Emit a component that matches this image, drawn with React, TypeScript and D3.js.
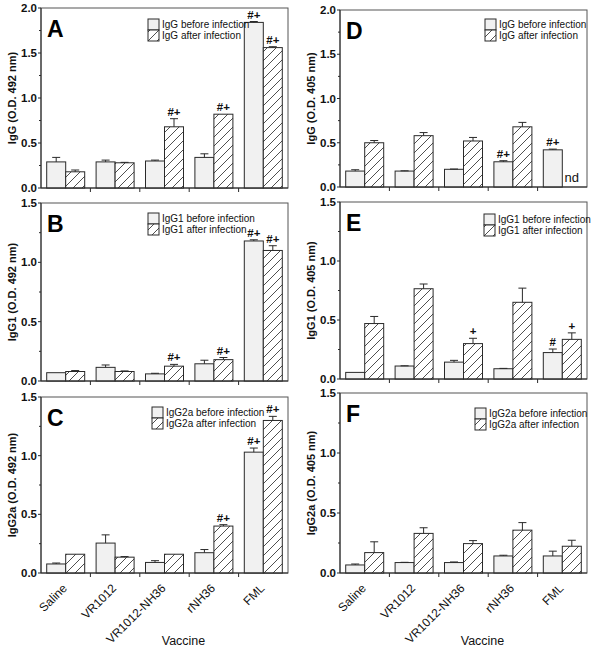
import React from "react";
import * as d3 from "d3";

const categories = ["Saline", "VR1012", "VR1012-NH36", "rNH36", "FML"];

// Panel A: IgG (O.D. 492 nm)
const aBefore = [0.29, 0.29, 0.3, 0.34, 1.84];
const aBeforeErr = [0.05, 0.02, 0.01, 0.04, 0.01];
const aAfter = [0.18, 0.28, 0.68, 0.82, 1.56];
const aAfterErr = [0.02, 0.005, 0.09, 0.0, 0.01];
const aBeforeMarks = ["", "", "", "", "#+"];
const aAfterMarks = ["", "", "#+", "#+", "#+"];

// Panel B: IgG1 (O.D. 492 nm)
const bBefore = [0.07, 0.115, 0.06, 0.145, 1.18];
const bBeforeErr = [0.0, 0.02, 0.005, 0.03, 0.01];
const bAfter = [0.08, 0.08, 0.125, 0.18, 1.1];
const bAfterErr = [0.008, 0.005, 0.015, 0.018, 0.04];
const bBeforeMarks = ["", "", "", "", "#+"];
const bAfterMarks = ["", "", "#+", "#+", "#+"];

// Panel C: IgG2a (O.D. 492 nm)
const cBefore = [0.077, 0.255, 0.09, 0.173, 1.03];
const cBeforeErr = [0.008, 0.07, 0.015, 0.027, 0.035];
const cAfter = [0.16, 0.135, 0.16, 0.4, 1.3];
const cAfterErr = [0.0, 0.005, 0.0, 0.012, 0.035];
const cBeforeMarks = ["", "", "", "", "#+"];
const cAfterMarks = ["", "", "", "#+", "#+"];

// Panel D: IgG (O.D. 405 nm)
const dBefore = [0.18, 0.18, 0.2, 0.285, 0.42];
const dBeforeErr = [0.015, 0.003, 0.003, 0.012, 0.008];
const dAfter: (number | null)[] = [0.5, 0.58, 0.52, 0.68, null];
const dAfterErr = [0.025, 0.035, 0.04, 0.05, 0];
const dBeforeMarks = ["", "", "", "#+", "#+"];
const dAfterMarks = ["", "", "", "", ""];

// Panel E: IgG1 (O.D. 405 nm)
const eBefore = [0.056, 0.11, 0.143, 0.087, 0.224];
const eBeforeErr = [0.0, 0.002, 0.015, 0.003, 0.03];
const eAfter = [0.47, 0.765, 0.3, 0.65, 0.336];
const eAfterErr = [0.06, 0.04, 0.045, 0.12, 0.055];
const eBeforeMarks = ["", "", "", "", "#"];
const eAfterMarks = ["", "", "+", "", "+"];

// Panel F: IgG2a (O.D. 405 nm)
const fBefore = [0.067, 0.087, 0.087, 0.142, 0.142];
const fBeforeErr = [0.008, 0.002, 0.005, 0.006, 0.04];
const fAfter = [0.17, 0.33, 0.245, 0.357, 0.223];
const fAfterErr = [0.09, 0.047, 0.025, 0.063, 0.05];
const fBeforeMarks = ["", "", "", "", ""];
const fAfterMarks = ["", "", "", "", ""];

const yTicks2 = [0, 0.5, 1.0, 1.5, 2.0];
const yTicks15 = [0, 0.5, 1.0, 1.5];

type Panel = {
  letter: string;
  title: string;
  iso: string;
  before: number[];
  beforeErr: number[];
  after: (number | null)[];
  afterErr: number[];
  beforeMarks: string[];
  afterMarks: string[];
  max: number;
  ticks: number[];
  x0: number;
  x1: number;
  y0: number;
  y1: number;
  legX: number;
  legY: number;
  showX: boolean;
};

const FONT = "'Liberation Sans', Arial, Helvetica, sans-serif";

const panels: Panel[] = [
  { letter: "A", title: "IgG (O.D.  492 nm)", iso: "IgG", before: aBefore, beforeErr: aBeforeErr, after: aAfter, afterErr: aAfterErr, beforeMarks: aBeforeMarks, afterMarks: aAfterMarks, max: 2, ticks: yTicks2, x0: 41, x1: 288, y0: 188, y1: 8, legX: 148, legY: 19, showX: false },
  { letter: "B", title: "IgG1 (O.D. 492 nm)", iso: "IgG1", before: bBefore, beforeErr: bBeforeErr, after: bAfter, afterErr: bAfterErr, beforeMarks: bBeforeMarks, afterMarks: bAfterMarks, max: 1.5, ticks: yTicks15, x0: 41, x1: 288, y0: 381, y1: 203, legX: 148, legY: 213, showX: false },
  { letter: "C", title: "IgG2a (O.D. 492 nm)", iso: "IgG2a", before: cBefore, beforeErr: cBeforeErr, after: cAfter, afterErr: cAfterErr, beforeMarks: cBeforeMarks, afterMarks: cAfterMarks, max: 1.5, ticks: yTicks15, x0: 41, x1: 288, y0: 573, y1: 397, legX: 152, legY: 407, showX: true },
  { letter: "D", title: "IgG (O.D.  405 nm)", iso: "IgG", before: dBefore, beforeErr: dBeforeErr, after: dAfter, afterErr: dAfterErr, beforeMarks: dBeforeMarks, afterMarks: dAfterMarks, max: 2, ticks: yTicks2, x0: 340, x1: 587, y0: 187, y1: 10, legX: 485, legY: 19, showX: false },
  { letter: "E", title: "IgG1 (O.D. 405 nm)", iso: "IgG1", before: eBefore, beforeErr: eBeforeErr, after: eAfter, afterErr: eAfterErr, beforeMarks: eBeforeMarks, afterMarks: eAfterMarks, max: 1.5, ticks: yTicks15, x0: 340, x1: 587, y0: 379, y1: 202, legX: 484, legY: 214, showX: false },
  { letter: "F", title: "IgG2a (O.D. 405 nm)", iso: "IgG2a", before: fBefore, beforeErr: fBeforeErr, after: fAfter, afterErr: fAfterErr, beforeMarks: fBeforeMarks, afterMarks: fAfterMarks, max: 1.5, ticks: yTicks15, x0: 340, x1: 587, y0: 573, y1: 393, legX: 475, legY: 408, showX: true },
];

const BAR_W = 19;
const STROKE = "#2a2a2a";
const FRAME = "#555";
const BEFORE_FILL = "#f1f1f1";

function PanelView({ p }: { p: Panel }) {
  const x = d3.scaleBand<string>().domain(categories).range([p.x0, p.x1]).padding(0);
  const y = d3.scaleLinear().domain([0, p.max]).range([p.y0, p.y1]);
  const bw = x.bandwidth();
  const minor = d3.range(0, p.max + 0.001, 0.25).filter((v) => Math.abs(v * 2 - Math.round(v * 2)) > 0.01);

  const bar = (cx: number, v: number | null, e: number, mark: string, hatched: boolean, key: string) => {
    if (v === null) return null;
    const top = y(v);
    const et = y(v + e);
    return (
      <g key={key}>
        <rect x={cx} y={top} width={BAR_W} height={p.y0 - top} fill={hatched ? "url(#hatch)" : BEFORE_FILL} stroke={STROKE} strokeWidth={1} />
        {e > 0 && (
          <g stroke={STROKE} strokeWidth={1}>
            <line x1={cx + BAR_W / 2} x2={cx + BAR_W / 2} y1={top} y2={et} />
            <line x1={cx + BAR_W / 2 - 4} x2={cx + BAR_W / 2 + 4} y1={et} y2={et} />
          </g>
        )}
        {mark && (
          <text x={cx + BAR_W / 2} y={et - 3} textAnchor="middle" fontSize={11.5} fontWeight="bold" fontFamily={FONT} fill="#111">
            {mark}
          </text>
        )}
      </g>
    );
  };

  return (
    <g>
      <rect x={p.x0} y={p.y1} width={p.x1 - p.x0} height={p.y0 - p.y1} fill="none" stroke={FRAME} strokeWidth={1} />
      {p.ticks.map((t) => (
        <g key={"t" + t}>
          <line x1={p.x0 - 3} x2={p.x0} y1={y(t)} y2={y(t)} stroke={STROKE} />
          <text x={p.x0 - 4} y={y(t) + 4} textAnchor="end" fontSize={11.5} fontWeight="bold" fontFamily={FONT} fill="#111">
            {t.toFixed(1)}
          </text>
        </g>
      ))}
      {minor.map((t) => (
        <line key={"m" + t} x1={p.x0 - 2} x2={p.x0} y1={y(t)} y2={y(t)} stroke={STROKE} />
      ))}
      {categories.slice(1).map((c) => (
        <line key={"xt" + c} x1={x(c)!} x2={x(c)!} y1={p.y0} y2={p.y0 + 4} stroke={STROKE} />
      ))}
      {categories.map((c, i) => {
        const center = x(c)! + bw / 2;
        return (
          <g key={c}>
            {bar(center - BAR_W, p.before[i], p.beforeErr[i], p.beforeMarks[i], false, "b" + i)}
            {bar(center, p.after[i], p.afterErr[i], p.afterMarks[i], true, "a" + i)}
            {p.after[i] === null && (
              <text x={center + BAR_W / 2} y={p.y0 - 5} textAnchor="middle" fontSize={13} fontFamily={FONT} fill="#111">
                nd
              </text>
            )}
          </g>
        );
      })}
      <line x1={p.x0} x2={p.x1} y1={p.y0} y2={p.y0} stroke={STROKE} strokeWidth={1.2} />
      <line x1={p.x0} x2={p.x0} y1={p.y0} y2={p.y1} stroke={STROKE} strokeWidth={1} />
      <text x={p.x0 + 6} y={p.y1 + 29} fontSize={23} fontWeight="bold" fontFamily={FONT} fill="#000">
        {p.letter}
      </text>
      <g fontFamily={FONT} fontSize={10} fill="#111">
        <rect x={p.legX} y={p.legY} width={11} height={11} fill={BEFORE_FILL} stroke={STROKE} />
        <rect x={p.legX} y={p.legY + 11} width={11} height={11} fill="url(#hatch)" stroke={STROKE} />
        <text x={p.legX + 14} y={p.legY + 9}>{p.iso} before infection</text>
        <text x={p.legX + 14} y={p.legY + 20}>{p.iso} after infection</text>
      </g>
      <text
        transform={`translate(${p.x0 - 25},${(p.y0 + p.y1) / 2}) rotate(-90)`}
        textAnchor="middle"
        fontSize={11}
        fontWeight="bold"
        fontFamily={FONT}
        fill="#111"
      >
        {p.title}
      </text>
      {p.showX && (
        <g fontFamily={FONT} fontSize={12} fill="#111">
          {categories.map((c) => {
            const cx = x(c)! + bw / 2 + 2;
            const cy = p.y0 + 16;
            return (
              <text key={"xl" + c} transform={`translate(${cx},${cy}) rotate(-45)`} textAnchor="end">
                {c}
              </text>
            );
          })}
          <text x={(p.x0 + p.x1) / 2 + 19} y={p.y0 + 72} textAnchor="middle" fontSize={12.5}>
            Vaccine
          </text>
        </g>
      )}
    </g>
  );
}

export default function App() {
  return (
    <div style={{ position: "fixed", left: 0, top: 0 }}>
      <svg width={592} height={660} style={{ display: "block", background: "#fff" }}>
        <defs>
          <pattern id="hatch" patternUnits="userSpaceOnUse" width={9} height={9}>
            <rect width={9} height={9} fill="#fff" />
            <path d="M0,9 L9,0 M-2,2 L2,-2 M7,11 L11,7" stroke="#222" strokeWidth={0.8} />
          </pattern>
        </defs>
        {panels.map((p) => (
          <PanelView key={p.letter} p={p} />
        ))}
      </svg>
    </div>
  );
}
